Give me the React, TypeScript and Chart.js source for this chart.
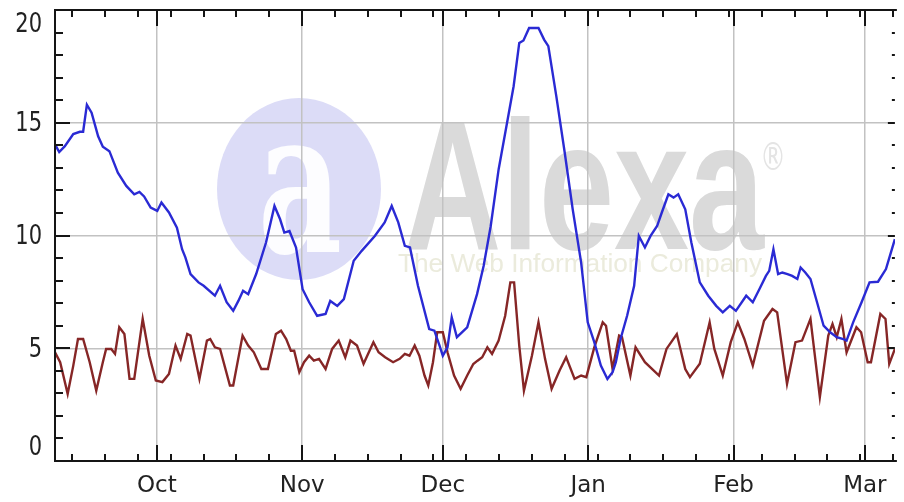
import React, { useEffect, useRef } from 'react';
import { Chart, registerables } from 'chart.js';

Chart.register(...registerables);

// X positions are days counted from 1 October (negative = September).
const monthLabels = ['Oct', 'Nov', 'Dec', 'Jan', 'Feb', 'Mar'];
const monthStartDays = [0, 31, 61, 92, 123, 151];
const firstWeekTick = -18;
const yTickLabels = [0, 5, 10, 15, 20];

const blueDays = [
  -21.7, -20.8, -19.6, -17.8, -16.4, -15.7, -14.9, -13.9, -12.5, -11.5, -10.1, -8.3, -6.5, -4.8, -3.7, -2.7,
  -1.3, 0.1, 1.0, 2.6, 4.3, 5.4, 6.1, 7.2, 8.9, 10.0, 12.4, 13.5, 14.9, 16.3, 17.4, 18.4, 19.5, 21.2, 23.3,
  25.1, 26.3, 27.2, 28.3, 29.7, 31.1, 32.5, 34.2, 36.0, 37.0, 38.5, 39.9, 42.0, 43.7, 46.5, 48.6, 50.1, 51.5,
  52.9, 54.0, 55.7, 58.1, 59.2, 60.3, 61.0, 62.0, 62.9, 64.0, 66.2, 68.3, 69.7, 71.2, 72.9, 74.7, 76.1, 77.3,
  78.2, 79.4, 81.4, 82.6, 83.5, 85.2, 87.0, 88.7, 90.5, 91.9, 93.3, 94.7, 96.1, 97.2, 97.9, 98.9, 100.3, 101.8,
  102.8, 104.1, 105.3, 106.7, 107.7, 109.1, 110.2, 111.2, 112.7, 114.0, 115.8, 117.6, 119.3, 120.7, 122.2,
  123.5, 125.7, 127.1, 128.5, 129.9, 130.6, 131.5, 132.5, 133.4, 134.5, 135.5, 136.6, 137.3, 138.3, 139.4,
  140.8, 142.2, 143.6, 145.0, 146.4, 147.1, 148.5, 150.3, 152.0, 153.8, 155.5, 157.4,
];
const blueValues = [
  14.04, 13.7, 13.96, 14.5, 14.6, 14.6, 15.8, 15.45, 14.4, 13.94, 13.74, 12.79, 12.2, 11.83, 11.93, 11.73,
  11.24, 11.09, 11.46, 11.02, 10.35, 9.39, 9.03, 8.29, 7.92, 7.77, 7.33, 7.77, 7.04, 6.66, 7.1, 7.55, 7.4, 8.29, 9.69,
  11.31, 10.72, 10.13, 10.2, 9.47, 7.62, 7.04, 6.44, 6.52, 7.1, 6.88, 7.18, 8.88, 9.32, 9.98, 10.58, 11.31, 10.58,
  9.54, 9.47, 7.77, 5.85, 5.78, 5.12, 4.67, 5.04, 6.37, 5.49, 5.93, 7.4, 8.65, 10.4, 12.93, 15.0, 16.62, 18.54,
  18.65, 19.2, 19.2, 18.69, 18.4, 16.18, 13.67, 11.16, 8.8, 6.15, 5.27, 4.23, 3.64, 3.94, 4.38, 5.41, 6.44, 7.77,
  9.98, 9.47, 9.98, 10.42, 11.02, 11.83, 11.68, 11.83, 11.16, 9.69, 7.92, 7.33, 6.88, 6.59, 6.88,
  6.66, 7.33, 7.04, 7.62, 8.21, 8.43, 9.39, 8.29, 8.36, 8.29, 8.21, 8.07, 8.58, 8.36, 8.07,
  7.04, 6.0, 5.71, 5.49, 5.41, 5.34, 6.15, 7.04, 7.92, 7.95, 8.51, 9.84,
];

const redDays = [
  -21.7, -20.6, -19.0, -17.8, -16.8, -15.7, -14.3, -12.9, -11.5, -10.8, -9.7, -8.9, -8.0, -6.9, -5.8, -4.8,
  -3.0, -1.6, -0.2, 1.2, 2.6, 4.0, 5.1, 6.5, 7.2, 9.1, 10.7, 11.4, 12.4, 13.5, 15.6, 16.3, 18.3, 19.5, 20.7,
  22.3, 23.7, 25.4, 26.5, 27.6, 28.6, 29.3, 30.4, 31.4, 32.5, 33.5, 34.6, 36.0, 37.4, 38.8, 40.2, 41.3, 42.7,
  44.1, 46.2, 47.3, 48.7, 50.4, 51.8, 52.9, 53.9, 55.0, 56.0, 57.1, 57.9, 58.9, 59.8, 61.0, 62.0, 63.4, 64.8,
  66.2, 67.5, 68.4, 69.4, 70.5, 71.5, 72.9, 74.3, 75.4, 76.2, 77.3, 78.3, 80.0, 81.4, 82.8, 84.2, 85.9, 87.3,
  89.1, 90.5, 91.6, 93.3, 95.1, 95.8, 97.2, 98.6, 99.2, 101.0, 102.1, 104.1, 107.1, 108.7, 110.9, 112.7, 113.7,
  115.8, 117.9, 118.9, 120.7, 122.4, 123.9, 125.3, 127.1, 129.5, 131.3, 132.3, 134.4, 136.2, 137.6, 139.4,
  141.4, 143.2, 144.1, 145.0, 146.0, 147.1, 149.2, 150.2, 151.6, 152.3, 154.3, 155.4, 156.2, 157.4,
];
const redValues = [
  4.82, 4.38, 2.98, 4.23, 5.41, 5.41, 4.38, 3.12, 4.38, 4.97, 4.97, 4.75, 5.93, 5.63, 3.64, 3.64,
  6.3, 4.67, 3.57, 3.5, 3.86, 5.12, 4.53, 5.63, 5.56, 3.64, 5.34, 5.41, 5.04, 4.97, 3.35, 3.35, 5.56, 5.12, 4.82,
  4.08, 4.08, 5.63, 5.78, 5.41, 4.89, 4.89, 3.94, 4.38, 4.67, 4.45, 4.53, 4.08, 4.97, 5.34, 4.6, 5.34, 5.12,
  4.31, 5.27, 4.82, 4.6, 4.38, 4.53, 4.75, 4.67, 5.12, 4.67, 3.79, 3.35, 4.38, 5.71, 5.71, 4.82, 3.79, 3.2,
  3.79, 4.3, 4.45, 4.6, 5.04, 4.75, 5.34, 6.44, 7.92, 7.92, 5.12, 3.12, 4.67, 6.15, 4.53, 3.2, 4.01, 4.6,
  3.64, 3.79, 3.72, 5.04, 6.15, 6.0, 4.08, 5.56, 5.5, 3.79, 5.04, 4.38, 3.79, 4.97, 5.63, 4.08, 3.72,
  4.31, 6.15, 4.97, 3.79, 5.27, 6.15, 5.41, 4.23, 6.22, 6.74, 6.59, 3.42, 5.27, 5.34, 6.3,
  2.83, 5.56, 6.08, 5.49, 6.3, 4.82, 5.93, 5.71, 4.38, 4.38, 6.52, 6.3, 4.31, 4.97,
];

const X_MIN = -21.7;
const X_MAX = 157.4;

const toPoints = (days: number[], values: number[]) => days.map((d, i) => ({ x: d, y: values[i] }));

function drawStretched(
  ctx: CanvasRenderingContext2D,
  text: string,
  family: string,
  left: number,
  baseline: number,
  targetW: number,
  targetH: number,
  heightRatio: number,
  color: string,
) {
  ctx.save();
  ctx.font = family;
  const w = ctx.measureText(text).width;
  const sx = targetW / w;
  const sy = targetH / (heightRatio * 100);
  ctx.translate(left, baseline);
  ctx.scale(sx, sy);
  ctx.fillStyle = color;
  ctx.textAlign = 'left';
  ctx.textBaseline = 'alphabetic';
  ctx.fillText(text, 0, 0);
  ctx.restore();
}

const watermark = {
  id: 'watermark',
  beforeDraw(chart: any) {
    const { ctx, width, height } = chart;
    ctx.save();
    ctx.fillStyle = '#ffffff';
    ctx.fillRect(0, 0, width, height);
    // logo disc
    ctx.fillStyle = '#dcdcf7';
    ctx.beginPath();
    ctx.ellipse(299, 189, 82, 91, 0, 0, Math.PI * 2);
    ctx.fill();
    drawStretched(ctx, 'a', 'bold 100px "DejaVu Serif"', 258, 252, 84, 112, 0.56, 'rgba(255,255,255,0.92)');
    drawStretched(ctx, 'Alexa', 'bold 100px "Liberation Sans"', 404, 249, 360, 131, 0.716, '#dadada');
    drawStretched(ctx, '®', '100px "DejaVu Sans"', 760, 170, 26, 28, 0.73, '#e4e4e4');
    drawStretched(ctx, 'The Web Information Company', '100px "Liberation Sans"', 398, 272, 364, 19, 0.716, '#ebebdc');
    ctx.restore();
  },
};

const frameAndTicks = {
  id: 'frameAndTicks',
  afterDraw(chart: any) {
    const { ctx, chartArea } = chart;
    const { left, right, top, bottom } = chartArea;
    const xs = chart.scales.x;
    const ys = chart.scales.y;
    ctx.save();
    ctx.strokeStyle = '#151515';
    ctx.lineWidth = 2;
    ctx.beginPath();
    xs.ticks.forEach((t: any) => {
      const px = Math.round(xs.getPixelForValue(t.value));
      const major = monthStartDays.includes(t.value);
      const len = major ? 16 : 7;
      ctx.moveTo(px, bottom);
      ctx.lineTo(px, bottom - len);
      ctx.moveTo(px, top);
      ctx.lineTo(px, top + len);
    });
    ys.ticks.forEach((t: any) => {
      const py = Math.round(ys.getPixelForValue(t.value));
      const major = t.value % 5 === 0;
      ctx.moveTo(left, py);
      ctx.lineTo(left + (major ? 15 : 8), py);
      ctx.moveTo(right, py);
      ctx.lineTo(right - (major ? 7 : 3), py);
    });
    ctx.stroke();
    ctx.beginPath();
    ctx.moveTo(right + 2, top);
    ctx.lineTo(left, top);
    ctx.lineTo(left, bottom);
    ctx.lineTo(right + 2, bottom);
    ctx.stroke();

    // y-axis labels (kept inside the frame at the ends, as in the original)
    ctx.fillStyle = '#222';
    ctx.font = '21px "DejaVu Sans"';
    ctx.textAlign = 'right';
    ctx.textBaseline = 'middle';
    yTickLabels.forEach((v) => {
      let py = ys.getPixelForValue(v) + 1.5;
      py = Math.max(top + 15, Math.min(bottom - 12.5, py));
      ctx.save();
      ctx.translate(42, py);
      ctx.scale(1, 1.25);
      ctx.fillText(String(v), 0, 0);
      ctx.restore();
    });
    ctx.restore();
  },
};

export default function App() {
  const canvasRef = useRef<HTMLCanvasElement | null>(null);

  useEffect(() => {
    const canvas = canvasRef.current;
    if (!canvas) return;
    const chart = new Chart(canvas, {
      type: 'line',
      data: {
        datasets: [
          {
            label: 'Series A',
            data: toPoints(blueDays, blueValues),
            borderColor: '#2a2ad4',
            borderWidth: 2.4,
            pointRadius: 0,
            tension: 0,
            fill: false,
          },
          {
            label: 'Series B',
            data: toPoints(redDays, redValues),
            borderColor: '#862626',
            borderWidth: 2.4,
            pointRadius: 0,
            tension: 0,
            fill: false,
          },
        ],
      },
      options: {
        animation: false,
        responsive: false,
        devicePixelRatio: 1,
        events: [],
        layout: { padding: { top: 10, left: 0, right: 0, bottom: 0 } },
        plugins: { legend: { display: false }, tooltip: { enabled: false } },
        scales: {
          x: {
            type: 'linear',
            min: X_MIN,
            max: X_MAX,
            afterBuildTicks: (scale: any) => {
              const values = new Set<number>(monthStartDays);
              for (let d = firstWeekTick; d <= X_MAX; d += 7) values.add(d);
              scale.ticks = Array.from(values)
                .sort((a, b) => a - b)
                .map((v) => ({ value: v }));
            },
            afterFit: (scale: any) => {
              scale.height = 41;
            },
            ticks: {
              autoSkip: false,
              maxRotation: 0,
              minRotation: 0,
              padding: 11,
              color: '#222',
              font: { family: '"DejaVu Sans"', size: 23 },
              callback: (value: any) => {
                const i = monthStartDays.indexOf(Number(value));
                return i >= 0 ? monthLabels[i] : '';
              },
            },
            grid: {
              drawTicks: false,
              lineWidth: 1.5,
              color: (ctx: any) =>
                ctx.tick && monthStartDays.includes(ctx.tick.value) ? '#c2c2c2' : 'rgba(0,0,0,0)',
            },
            border: { display: false },
          },
          y: {
            type: 'linear',
            min: 0,
            max: 20,
            afterBuildTicks: (scale: any) => {
              const t = [];
              for (let v = 0; v <= 20; v += 1) t.push({ value: v });
              scale.ticks = t;
            },
            afterFit: (scale: any) => {
              scale.width = 55;
            },
            ticks: { display: false },
            grid: {
              drawTicks: false,
              lineWidth: 1.5,
              color: (ctx: any) =>
                ctx.tick && ctx.tick.value % 5 === 0 && ctx.tick.value > 0 && ctx.tick.value < 20
                  ? '#c2c2c2'
                  : 'rgba(0,0,0,0)',
            },
            border: { display: false },
          },
        },
      },
      plugins: [watermark, frameAndTicks],
    });
    return () => chart.destroy();
  }, []);

  return (
    <div style={{ position: 'absolute', left: 0, top: 0, width: 904, height: 502, background: '#fff' }}>
      <canvas ref={canvasRef} width={904} height={502} style={{ display: 'block' }} />
    </div>
  );
}
